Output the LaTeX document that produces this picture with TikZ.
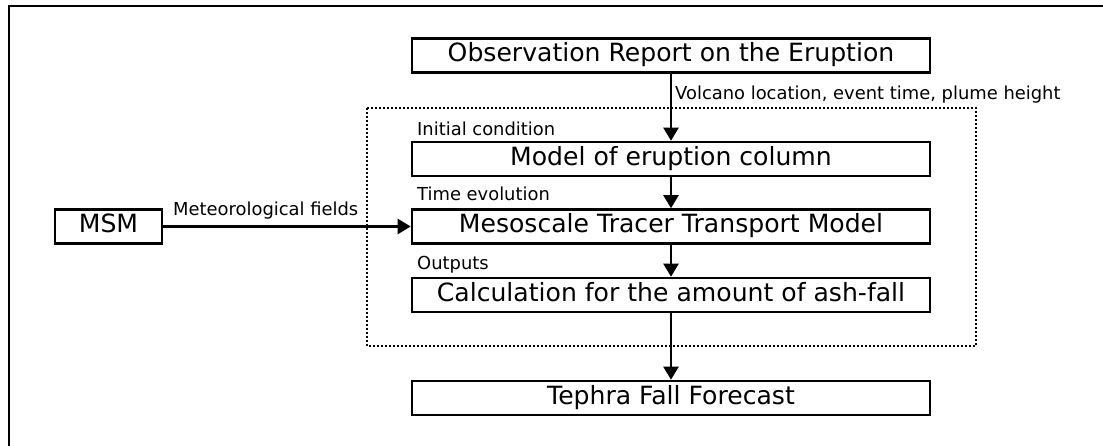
\documentclass[tikz,border=0pt]{standalone}
\usepackage{fontspec}
\setmainfont{DejaVu Sans}
\usetikzlibrary{arrows.meta}
\begin{document}
\begin{tikzpicture}[x=1pt,y=-1pt,
  boxnode/.style={draw=black, line width=2.6pt, minimum width=518pt, minimum height=34pt, inner sep=0pt, text height=18.5pt, text depth=5.5pt, font=\fontsize{25.1}{30}\selectfont},
  lbl/.style={inner sep=0pt, font=\fontsize{17.9}{21}\selectfont},
  flow/.style={line width=2.4pt, -{Triangle[length=13pt,width=15pt]}},
  dotbox/.style={line width=2.2pt, dash pattern=on 2pt off 2pt},
  frame/.style={line width=2.2pt}]
\useasboundingbox (0,0) rectangle (1103,446);
\draw[frame] (9,446) -- (9,6) -- (1103,6);
\draw[dotbox] (367,108) rectangle (976,346);
\node[boxnode] (obs) at (671,55.5) {Observation Report on the Eruption};
\node[boxnode] (model) at (671,159) {Model of eruption column};
\node[boxnode] (meso) at (671,226.5) {Mesoscale Tracer Transport Model};
\node[boxnode] (calc) at (671,295) {Calculation for the amount of ash-fall};
\node[boxnode] (teph) at (671,398) {Tephra Fall Forecast};
\node[boxnode, minimum width=107pt] (msm) at (108.5,226.5) {MSM};
\node[lbl, anchor=base west] (lvolc) at (675,100) {Volcano location, event time, plume height};
\node[lbl, anchor=base west] (linit) at (417,136) {Initial condition};
\node[lbl, anchor=base west] (ltime) at (417,201) {Time evolution};
\node[lbl, anchor=base west] (lout) at (417,270) {Outputs};
\node[lbl, anchor=base west] (lmet) at (173,216) {Meteorological fields};
\draw[flow] (obs) -- (model);
\draw[flow] (model) -- (meso);
\draw[flow] (meso) -- (calc);
\draw[flow] (calc) -- (teph);
\draw[flow] (msm) -- (meso);
\end{tikzpicture}
\end{document}
